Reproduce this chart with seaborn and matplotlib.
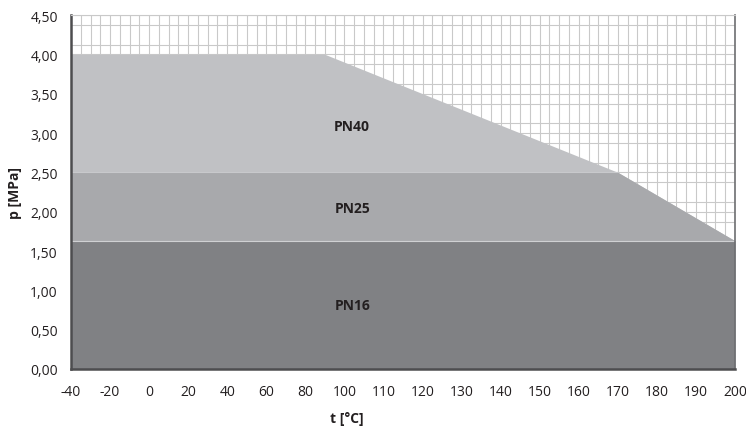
import numpy as np
import pandas as pd
import matplotlib
matplotlib.use("Agg")
import matplotlib.pyplot as plt
import seaborn as sns

# ---- data ----
tick_temps = [-40, -20, 0, 20, 40, 60, 80, 100, 110, 120, 130, 140, 150, 160, 170, 180, 190, 200]
tick_labels = [str(t) for t in tick_temps]
y_ticks = [0.0, 0.5, 1.0, 1.5, 2.0, 2.5, 3.0, 3.5, 4.0, 4.5]

pn40_t = [-40, 90, 170, 200]
pn40_p = [4.0, 4.0, 2.5, 1.63]
pn25_t = [-40, 170, 200]
pn25_p = [2.5, 2.5, 1.63]
pn16_t = [-40, 200]
pn16_p = [1.63, 1.63]

series_names = ["PN40", "PN25", "PN16"]
series_colors = ["#c0c1c4", "#a8a9ac", "#808184"]
label_pos = [(102, 3.09), (102, 2.05), (102, 0.81)]

# ---- scale: equal spacing between labelled temperatures ----
idx = np.arange(len(tick_temps), dtype=float)
def fwd(x):
    return np.interp(np.asarray(x, dtype=float), tick_temps, idx)
def inv(u):
    return np.interp(np.asarray(u, dtype=float), idx, tick_temps)

sns.set_style("white")
plt.rcParams['font.family'] = ['Open Sans', 'DejaVu Sans']

W, H = 746, 427
L, R, T, B = 71, 735, 16, 370
fig = plt.figure(figsize=(W/100, H/100), dpi=100)
ax = fig.add_axes([L/W, (H-B)/H, (R-L)/W, (B-T)/H])
ax.set_xscale('function', functions=(fwd, inv))

frames = [pd.DataFrame({"t": pn40_t, "p": pn40_p}),
          pd.DataFrame({"t": pn25_t, "p": pn25_p}),
          pd.DataFrame({"t": pn16_t, "p": pn16_p})]

for df, name, col in zip(frames, series_names, series_colors):
    ax.fill_between(df["t"], 0, df["p"], color=col, linewidth=0, zorder=2)

# subtle boundary lines
sns.lineplot(x=[pn25_t[0], pn25_t[1]], y=[pn25_p[0], pn25_p[1]], ax=ax,
             color="#c8c9cc", linewidth=0.8, zorder=3)
sns.lineplot(x=pn16_t, y=pn16_p, ax=ax, color="#d0d1d3", linewidth=0.8, zorder=3)

for (tx, py), name in zip(label_pos, series_names):
    ax.text(tx, py, name, ha='center', va='center', fontsize=10,
            fontweight='bold', color='#231f20', zorder=4)

# ticks: major every half-index, labels on even ones
half_idx = np.arange(0, len(tick_temps) - 1 + 1e-9, 0.5)
major_pos = inv(half_idx)
major_lbl = [tick_labels[int(h)] if float(h).is_integer() else "" for h in half_idx]
ax.set_xticks(major_pos)
ax.set_xticklabels(major_lbl)
quarter = np.arange(0.25, len(tick_temps) - 1, 0.5)
ax.set_xticks(inv(quarter), minor=True)

ax.set_yticks(y_ticks)
ax.set_yticklabels([f"{v:.2f}".replace('.', ',') for v in y_ticks])
ax.set_yticks(np.arange(0.125, 4.5, 0.25), minor=True)

ax.set_xlim(-40, 200)
ax.set_ylim(0, 4.5)

ax.set_axisbelow(True)
ax.grid(which='both', color='#c9c9c9', linewidth=0.8, zorder=0)

ax.tick_params(axis='both', which='major', direction='out', width=1,
               color='#231f20', labelsize=10, labelcolor='#231f20')
ax.tick_params(axis='x', which='major', length=4.5, pad=6)
ax.tick_params(axis='y', which='major', length=6.5, pad=3)
ax.tick_params(axis='both', which='minor', length=0)

for s in ['left', 'bottom']:
    ax.spines[s].set_color('#4d4d4f')
    ax.spines[s].set_linewidth(1.8)
ax.spines['right'].set_color('#6d6e71')
ax.spines['right'].set_linewidth(1.2)
ax.spines['top'].set_color('#c9c9c9')
ax.spines['top'].set_linewidth(0.8)
for s in ax.spines.values():
    s.set_zorder(5)

ax.set_xlabel("t [°C]", fontsize=10, fontweight='bold', color='#231f20', va='center')
ax.set_ylabel("p [MPa]", fontsize=10, fontweight='bold', color='#231f20', va='center')
ax.xaxis.set_label_coords((347-L)/(R-L), -(419-B)/(B-T))
ax.yaxis.set_label_coords(-(L-15)/(R-L), 0.5)

fig.savefig("out.png", dpi=100)
